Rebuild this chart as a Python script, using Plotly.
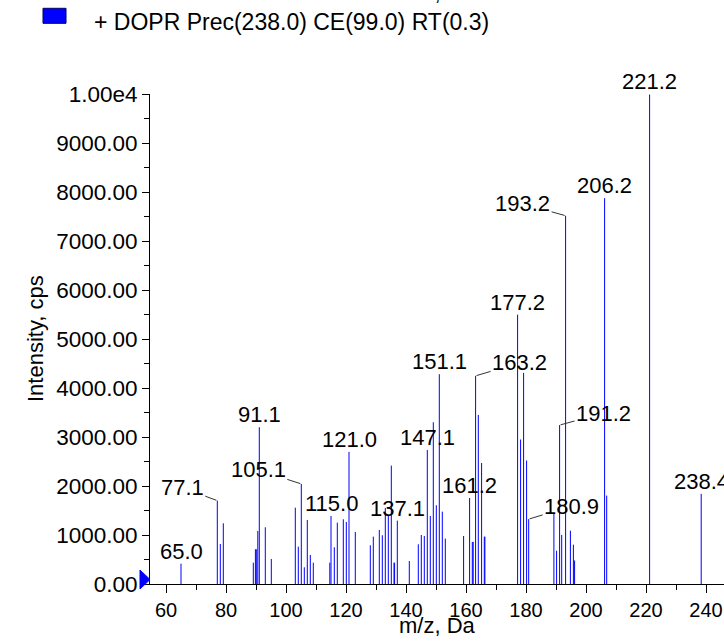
import plotly.graph_objects as go

# ---- data ----
mz = [65.0, 77.1, 78.1, 79.1, 89.1, 89.8, 90.1, 90.6, 91.1, 93.1, 95.1,
      103.1, 104.1, 105.1, 106.1, 107.1, 108.1, 109.1,
      114.6, 115.0, 116.1, 117.1, 119.1, 120.1, 121.0, 123.1,
      128.1, 129.1, 131.1, 132.1, 133.1, 134.1, 135.1, 136.0, 136.2, 137.1,
      141.1, 144.1, 145.1, 146.1, 147.1, 148.1, 149.1, 150.1, 151.1, 152.1, 153.1,
      159.2, 161.2, 162.1, 162.4, 163.2, 164.1, 165.2, 166.1, 166.3,
      177.2, 178.2, 179.2, 180.2, 180.9,
      189.3, 190.2, 191.2, 191.9, 193.2, 194.8, 195.8, 196.2,
      206.2, 206.9, 221.2, 238.4]
intensity = [415, 1701, 817, 1239, 435, 709, 709, 1082, 3200, 1158, 510,
             1558, 762, 2042, 341, 1307, 592, 435,
             435, 1389, 749, 1252, 1321, 1266, 2696, 1062,
             790, 966, 1103, 994, 1552, 1400, 2416, 435, 435, 1293,
             470, 810, 1000, 980, 2736, 1389, 3301, 1607, 4282, 1477, 926,
             980, 1756, 858, 860, 4248, 3451, 2470, 966, 966,
             5497, 2949, 4309, 2520, 1324,
             1432, 680, 3243, 1002, 7516, 1088, 802, 480,
             7874, 1804, 9990, 1840]

# labelled peaks
label_mz = [65.0, 77.1, 91.1, 105.1, 115.0, 121.0, 137.1, 147.1, 151.1,
            161.2, 163.2, 177.2, 180.9, 191.2, 193.2, 206.2, 221.2, 238.4]
label_text = ["65.0", "77.1", "91.1", "105.1", "115.0", "121.0", "137.1", "147.1", "151.1",
              "161.2", "163.2", "177.2", "180.9", "191.2", "193.2", "206.2", "221.2", "238.4"]

y_tick_vals = [0, 1000, 2000, 3000, 4000, 5000, 6000, 7000, 8000, 9000, 10000]
y_tick_text = ["0.00", "1000.00", "2000.00", "3000.00", "4000.00", "5000.00",
               "6000.00", "7000.00", "8000.00", "9000.00", "1.00e4"]
x_tick_vals = [60, 80, 100, 120, 140, 160, 180, 200, 220, 240]

legend_text = "+ DOPR Prec(238.0) CE(99.0) RT(0.3)"
x_title = "m/z, Da"
y_title = "Intensity, cps"

# ---- layout geometry (pixels) ----
W, H = 724, 641
ML, MR, MT, MB = 150, 0, 94, 57
PW, PH = W - ML - MR, H - MT - MB
XMIN = 60 - 16 / 3.0
XMAX = XMIN + PW / 3.0

def px(xp):
    return (xp - ML) / PW

def py(yp):
    return (H - MB - yp) / PH

FONT = "Liberation Sans, Arial, sans-serif"
BLUE = "#0000FF"

# stick spectrum: one vertical segment per peak, built from the data lists
seg_x, seg_y = [], []
for m, v in zip(mz, intensity):
    seg_x += [m, m, None]
    seg_y += [0, v, None]

fig = go.Figure()
fig.add_trace(go.Scatter(x=seg_x, y=seg_y, mode="lines",
                         line=dict(color=BLUE, width=1),
                         showlegend=False, hoverinfo="x+y"))

# leader-line offsets (pixels) for labels placed beside their peaks
leader = {"77.1": (-35, -13), "105.1": (-43, -14), "193.2": (-43, -12),
          "163.2": (44, -13), "191.2": (44, -12), "180.9": (43, -13)}

ann = []
inten_map = dict(zip(mz, intensity))
for m, t in zip(label_mz, label_text):
    yv = inten_map[m]
    if t in leader:
        ax, ay = leader[t]
        ann.append(dict(x=m, y=yv, xref="x", yref="y", text=t, showarrow=True,
                        arrowhead=0, arrowwidth=1, arrowcolor="#333333",
                        ax=ax, ay=ay, standoff=1,
                        font=dict(family=FONT, size=22, color="black")))
    else:
        ann.append(dict(x=m, y=yv, xref="x", yref="y", text=t, showarrow=False,
                        yanchor="middle", yshift=12.5,
                        font=dict(family=FONT, size=22, color="black")))

# legend text
ann.append(dict(x=px(92), y=py(22), xref="paper", yref="paper", text=legend_text,
                showarrow=False, xanchor="left", yanchor="middle",
                font=dict(family=FONT, size=23, color="black")))
# partially visible title at the very top
ann.append(dict(x=0.5, y=py(7), xref="paper", yref="paper", text=x_title,
                showarrow=False, xanchor="center", yanchor="bottom",
                font=dict(family=FONT, size=22, color="black")))
# axis titles
ann.append(dict(x=0.5, y=py(625), xref="paper", yref="paper", text=x_title,
                showarrow=False, xanchor="center", yanchor="middle",
                font=dict(family=FONT, size=22, color="black")))
ann.append(dict(x=px(35), y=0.5, xref="paper", yref="paper", text=y_title,
                showarrow=False, xanchor="center", yanchor="middle", textangle=-90,
                font=dict(family=FONT, size=22, color="black")))

shapes = [
    # legend swatch
    dict(type="rect", xref="paper", yref="paper",
         x0=px(43), x1=px(66), y0=py(23.3), y1=py(8.3),
         fillcolor=BLUE, line=dict(color="#000060", width=1)),
    # baseline marker triangle (left of the y axis at zero)
    dict(type="path", xref="paper", yref="paper", xsizemode="pixel", ysizemode="pixel",
         xanchor=0, yanchor=0,
         path="M -10,14 L 0,4.5 L -10,-5 Z",
         fillcolor=BLUE, line=dict(color=BLUE, width=1)),
]

fig.update_layout(
    width=W, height=H,
    margin=dict(l=ML, r=MR, t=MT, b=MB, pad=0),
    paper_bgcolor="white", plot_bgcolor="white",
    font=dict(family=FONT, size=22, color="black"),
    annotations=ann, shapes=shapes,
    showlegend=False,
    xaxis=dict(range=[XMIN, XMAX], tickvals=x_tick_vals, ticks="outside", ticklen=8,
               tickwidth=1, tickcolor="black", showline=True, linecolor="black",
               linewidth=1, showgrid=False, zeroline=False,
               tickfont=dict(family=FONT, size=20, color="black"),
               minor=dict(dtick=10, tick0=0, ticks="outside", ticklen=5,
                          tickcolor="black", showgrid=False)),
    yaxis=dict(range=[0, 10000], tickvals=y_tick_vals, ticktext=y_tick_text,
               ticks="outside", ticklen=7, tickwidth=1, tickcolor="black",
               showline=True, linecolor="black", linewidth=1, showgrid=False,
               zeroline=False,
               tickfont=dict(family=FONT, size=22.5, color="black"),
               minor=dict(dtick=500, tick0=0, ticks="outside", ticklen=5,
                          tickcolor="black", showgrid=False)),
)

fig.write_html("out.html",
               config={"displayModeBar": False},
               post_script="document.body.style.margin='0';document.body.style.overflow='hidden';")
